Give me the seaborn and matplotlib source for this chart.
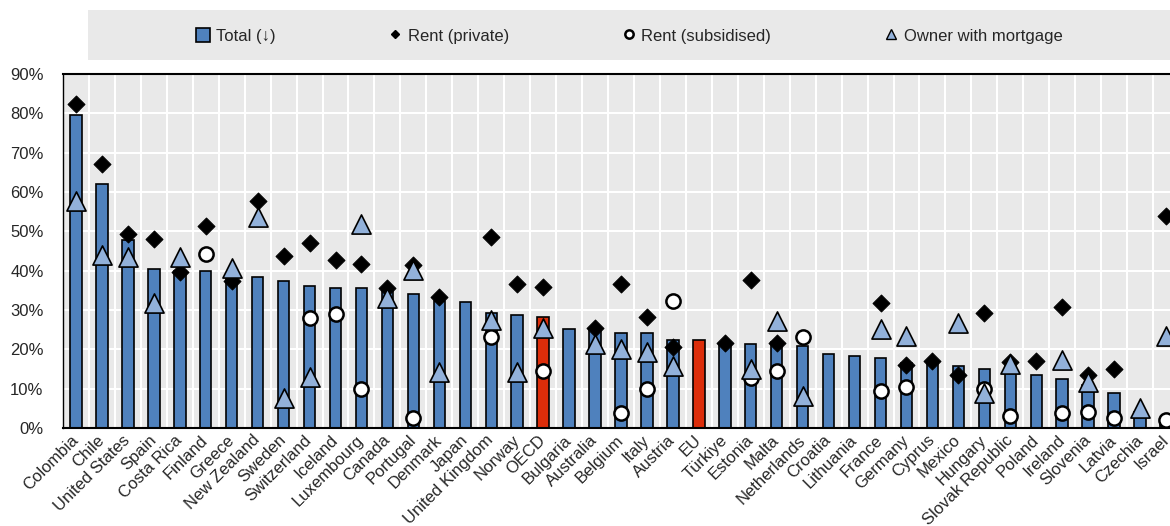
import matplotlib
matplotlib.use("Agg")
import matplotlib.pyplot as plt
import matplotlib.patches as mpatches
from matplotlib.lines import Line2D
from matplotlib.ticker import PercentFormatter, FixedLocator
import numpy as np
import pandas as pd
import seaborn as sns

nan = np.nan

COUNTRIES = [
    "Colombia", "Chile", "United States", "Spain", "Costa Rica", "Finland",
    "Greece", "New Zealand", "Sweden", "Switzerland", "Iceland", "Luxembourg",
    "Canada", "Portugal", "Denmark", "Japan", "United Kingdom", "Norway",
    "OECD", "Bulgaria", "Australia", "Belgium", "Italy", "Austria", "EU",
    "Türkiye", "Estonia", "Malta", "Netherlands", "Croatia", "Lithuania",
    "France", "Germany", "Cyprus", "Mexico", "Hungary", "Slovak Republic",
    "Poland", "Ireland", "Slovenia", "Latvia", "Czechia", "Israel",
]
TOTAL = [
    79.5, 62.0, 47.8, 40.4, 40.0, 40.0, 39.0, 38.4, 37.3, 36.1, 35.6, 35.6,
    35.0, 34.0, 32.2, 32.0, 29.3, 28.7, 28.2, 25.1, 25.1, 24.1, 24.1, 22.5,
    22.4, 21.5, 21.4, 21.8, 20.8, 18.9, 18.3, 17.9, 16.6, 16.5, 15.7, 15.1,
    15.8, 13.6, 12.5, 11.0, 8.9, 4.0, 2.0,
]
RENT_PRIVATE = [
    82.3, 67.0, 49.3, 48.0, 39.7, 51.3, 37.4, 57.7, 43.8, 47.0, 42.8, 41.8,
    35.5, 41.4, 33.4, nan, 48.6, 36.6, 35.9, nan, 25.5, 36.6, 28.1, 20.7,
    nan, 21.7, 37.7, 21.7, nan, nan, nan, 31.9, 16.0, 17.0, 13.4, 29.2,
    16.8, 17.0, 30.8, 13.6, 14.9, nan, 53.8,
]
RENT_SUBSIDISED = [
    nan, nan, nan, nan, nan, 44.2, nan, nan, nan, 27.9, 28.9, 10.0,
    nan, 2.6, nan, nan, 23.1, nan, 14.6, nan, nan, 3.7, 10.0, 32.2,
    nan, nan, 12.6, 14.6, 23.1, nan, nan, 9.4, 10.5, nan, nan, 10.0,
    3.1, nan, 3.7, 4.1, 2.6, nan, 2.1,
]
OWNER_MORTGAGE = [
    57.6, 44.0, 43.4, 31.9, 43.4, nan, 40.7, 53.6, 7.7, 12.9, nan, 51.9,
    33.0, 40.1, 14.3, nan, 27.4, 14.3, 25.5, nan, 21.3, 20.2, 19.3, 15.7,
    nan, nan, 15.1, 27.2, 8.1, nan, nan, 25.1, 23.4, nan, 26.8, 8.9,
    16.2, nan, 17.2, 11.7, nan, 5.1, 23.4,
]
HIGHLIGHT = ["OECD", "EU"]

BLUE = "#4f81bd"
RED = "#dc2d0a"
LIGHT_BLUE = "#92b1da"
PANEL = "#e9e9e9"

sns.set_style("white")
plt.rcParams["font.family"] = ["Liberation Sans", "DejaVu Sans"]
plt.rcParams["font.size"] = 12

df = pd.DataFrame({
    "country": COUNTRIES,
    "total": TOTAL,
    "private": RENT_PRIVATE,
    "subsidised": RENT_SUBSIDISED,
    "mortgage": OWNER_MORTGAGE,
})
df["pos"] = np.arange(len(df))
palette = {c: (RED if c in HIGHLIGHT else BLUE) for c in COUNTRIES}

fig = plt.figure(figsize=(11.7, 5.26), dpi=100)
ax = fig.add_axes([63 / 1170, 98 / 526, 1116 / 1170, 354 / 526])
ax.set_facecolor(PANEL)

sns.barplot(data=df, x="country", y="total", hue="country", palette=palette,
            width=0.44, edgecolor="black", linewidth=1.2, saturation=1,
            legend=False, ax=ax, zorder=2)

sns.scatterplot(data=df, x="pos", y="private", marker="D", s=75,
                color="black", edgecolor="black", ax=ax, zorder=3)
sns.scatterplot(data=df, x="pos", y="subsidised", marker="o", s=105,
                color="white", edgecolor="black", linewidth=1.8, ax=ax, zorder=4)
sns.scatterplot(data=df, x="pos", y="mortgage", marker="^", s=190,
                color=LIGHT_BLUE, edgecolor="black", linewidth=1.2, ax=ax, zorder=5)

ax.set_xlim(-0.5, len(df) - 0.5)
ax.set_ylim(0, 90)
ax.yaxis.set_major_locator(FixedLocator(np.arange(0, 91, 10)))
ax.yaxis.set_major_formatter(PercentFormatter(decimals=0))
ax.set_xlabel("")
ax.set_ylabel("")

# white grid, vertical lines between categories
ax.grid(axis="y", color="white", linewidth=1.5, zorder=0)
ax.set_xticks(np.arange(len(df) - 1) + 0.5, minor=True)
ax.grid(axis="x", which="minor", color="white", linewidth=1.5, zorder=0)
ax.set_axisbelow(True)

ax.set_xticks(np.arange(len(df)))
ax.set_xticklabels(COUNTRIES, rotation=45, ha="right", va="center",
                   rotation_mode="anchor")
ax.tick_params(axis="x", which="major", length=0, pad=7)
ax.tick_params(axis="x", which="minor", direction="in", length=4, width=1.2,
               color="black")
ax.tick_params(axis="y", length=0, pad=14)

for side in ["left", "bottom", "top"]:
    ax.spines[side].set_color("black")
    ax.spines[side].set_linewidth(1.5)
ax.spines["left"].set_linewidth(1.0)
ax.spines["right"].set_visible(False)

# legend panel
fig.patches.append(mpatches.Rectangle((88 / 1170, 466 / 526), 1, 50 / 526,
                                      transform=fig.transFigure,
                                      facecolor=PANEL, edgecolor="none",
                                      zorder=0))
handles = [
    mpatches.Patch(facecolor=BLUE, edgecolor="black", linewidth=1.2),
    Line2D([], [], marker="D", color="black", linestyle="none", markersize=4),
    Line2D([], [], marker="o", markerfacecolor="white", markeredgecolor="black",
           markeredgewidth=1.8, linestyle="none", markersize=6),
    Line2D([], [], marker="^", markerfacecolor=LIGHT_BLUE,
           markeredgecolor="black", linestyle="none", markersize=7),
]
labels = ["Total (↓)", "Rent (private)", "Rent (subsidised)",
          "Owner with mortgage"]
fig.legend(handles, labels, loc="center", bbox_to_anchor=(0.538, 0.932),
           ncol=4, frameon=False, handlelength=0.8, handleheight=0.9,
           handletextpad=0.35, columnspacing=6.8, fontsize=12)

fig.savefig("out.png", dpi=100)
